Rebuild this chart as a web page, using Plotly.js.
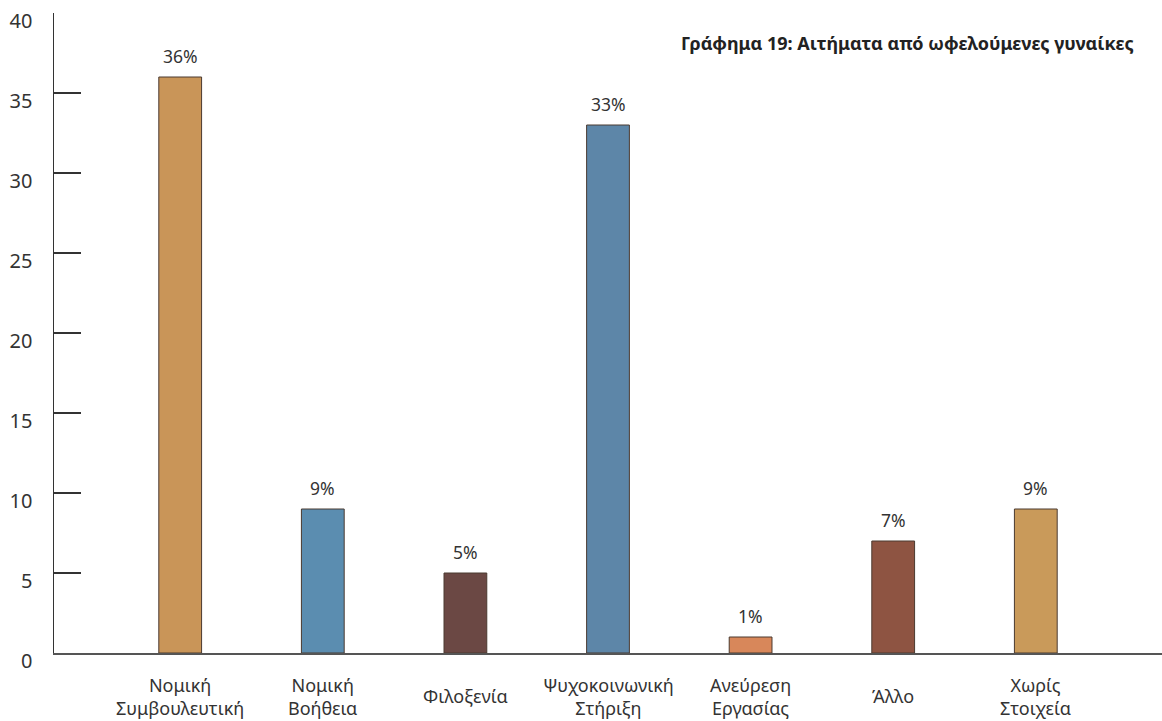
<!DOCTYPE html>
<html>
<head>
<meta charset="utf-8">
<script src="https://cdn.plot.ly/plotly-3.0.1.min.js"></script>
<style>html,body{margin:0;padding:0;background:#fff;}#chart{width:1162px;height:721px;}</style>
</head>
<body>
<div id="chart"></div>
<script>
const categories = ["Νομική<br>Συμβουλευτική", "Νομική<br>Βοήθεια", "Φιλοξενία", "Ψυχοκοινωνική<br>Στήριξη", "Ανεύρεση<br>Εργασίας", "Άλλο", "Χωρίς<br>Στοιχεία"];
const values = [36, 9, 5, 33, 1, 7, 9];
const barLabels = ["36%", "9%", "5%", "33%", "1%", "7%", "9%"];
const barColors = ["#C99558", "#5B8DB0", "#6B4844", "#5D86A8", "#D8875A", "#8E5442", "#C99A5A"];
const yTicks = [0, 5, 10, 15, 20, 25, 30, 35, 40];
const titleText = "Γράφημα 19: Αιτήματα από ωφελούμενες γυναίκες";

const xIdx = categories.map((_, i) => i);
const font = "Noto Sans, Open Sans, sans-serif";

const annotations = [];
values.forEach((v, i) => {
  annotations.push({x: i, y: v, xref: 'x', yref: 'y', text: barLabels[i], showarrow: false,
    yanchor: 'bottom', yshift: 7, font: {family: font, size: 17.5, color: '#333'}});
});
categories.forEach((c, i) => {
  annotations.push({x: i, y: 0, xref: 'x', yref: 'paper', text: c, showarrow: false,
    yanchor: 'middle', yshift: -43, align: 'center', font: {family: font, size: 18, color: '#333'}});
});
annotations.push({x: (1136 - 54) / (1162 - 54), xref: 'paper', y: 1, yref: 'paper', text: '<b>' + titleText + '</b>', showarrow: false,
  xanchor: 'right', yanchor: 'middle', yshift: -30, font: {family: font, size: 18, color: '#222'}});

Plotly.newPlot('chart', [{
  type: 'bar', x: xIdx, y: values, width: 0.3,
  marker: {color: barColors, line: {color: '#4a3a30', width: 1}},
  hoverinfo: 'none'
}], {
  width: 1162, height: 721,
  margin: {l: 54, r: 0, t: 13, b: 68},
  paper_bgcolor: '#fff', plot_bgcolor: '#fff',
  showlegend: false,
  xaxis: {range: [-0.885, 6.885], showticklabels: false, ticks: '', showgrid: false, zeroline: false,
    showline: true, linecolor: '#555', linewidth: 2, fixedrange: true},
  yaxis: {range: [0, 40], tickvals: yTicks, ticks: 'inside', ticklen: 27, tickwidth: 1.5, tickcolor: '#333',
    showgrid: false, zeroline: false, showline: true, linecolor: '#333', linewidth: 1.5,
    ticklabelstandoff: 16, ticklabelshift: 8,
    tickfont: {family: font, size: 20, color: '#333'}, fixedrange: true},
  annotations: annotations
}, {displayModeBar: false, staticPlot: true});
</script>
</body>
</html>
